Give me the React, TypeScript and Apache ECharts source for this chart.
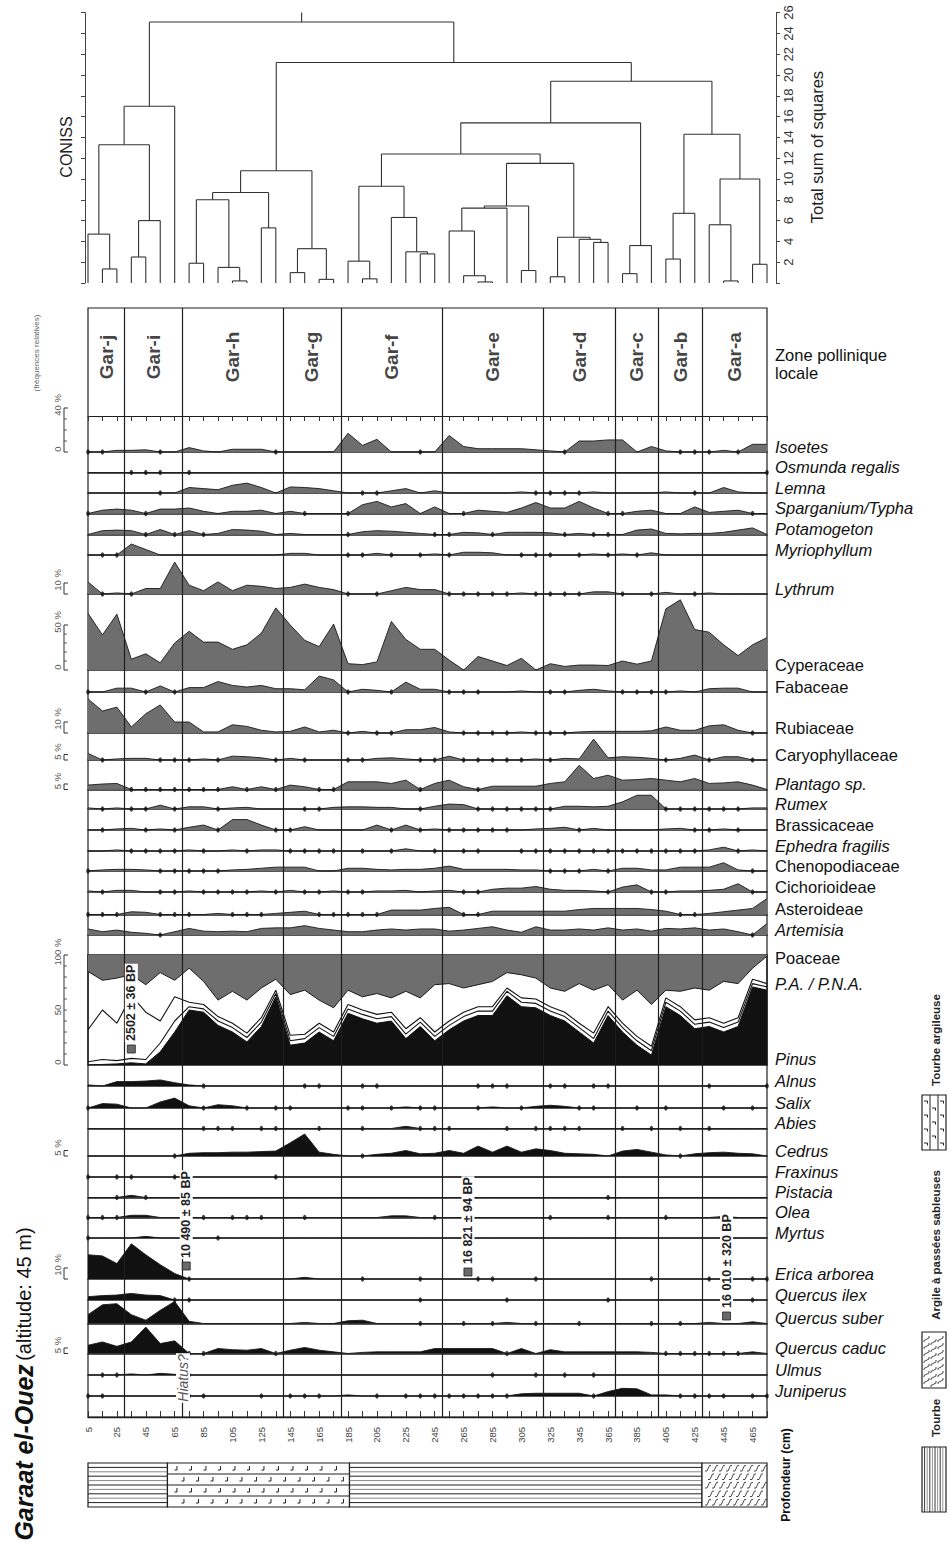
import React, { useEffect, useRef } from 'react';
import * as echarts from 'echarts';

// ---------------- DATA ----------------
const depths = [5, 15, 25, 35, 45, 55, 65, 75, 85, 95, 105, 115, 125, 135, 145, 155, 165, 175, 185, 195, 205, 215, 225, 235, 245, 255, 265, 275, 285, 295, 305, 315, 325, 335, 345, 355, 365, 375, 385, 395, 405, 415, 425, 435, 445, 455, 465, 475];
const depthLabels = [5, 25, 45, 65, 85, 105, 125, 145, 165, 185, 205, 225, 245, 265, 285, 305, 325, 345, 365, 385, 405, 425, 445, 465];

const zoneNames = ['Gar-j', 'Gar-i', 'Gar-h', 'Gar-g', 'Gar-f', 'Gar-e', 'Gar-d', 'Gar-c', 'Gar-b', 'Gar-a'];
const zoneBounds = [5, 30, 70, 140, 180, 250, 320, 370, 400, 430, 475];

// CONISS dendrogram: [left, right, height]; leaves = sample index
const conissTree: any = [
  [[[0, [1, 2, 1.35], 4.7], [[3, 4, 2.5], 5, 6.0], 13.3], 6, 17.0],
  [
    [[[[7, 8, 1.9], [9, [10, 11, 0.2], 1.5], 8.0], [12, 13, 5.3], 8.7], [[14, 15, 1.0], [16, 17, 0.35], 3.3], 10.8],
    [
      [
        [
          [[18, [19, 20, 0.4], 2.1], [21, [22, [23, 24, 2.8], 3.0], 6.3], 9.3],
          [[[[25, [26, [27, 28, 0.1], 0.7], 5.0], 29, 7.2], [30, 31, 1.2], 7.4], [[32, 33, 0.6], [34, [35, 36, 3.9], 4.2], 4.4], 11.5],
          12.4
        ],
        [[37, 38, 0.9], 39, 3.6],
        15.4
      ],
      [[[40, 41, 2.3], 42, 6.7], [[43, [44, 45, 0.2], 5.6], [46, 47, 1.8], 10.0], 14.3],
      19.4
    ],
    21.2
  ],
  25.1
];
const conissRootTop = 26;

const isoetes = [0.2, 0.2, 1.5, 1.5, 2, 0.2, 0, 4, 1, 0, 2.5, 2.5, 2.5, 0.2, 0, 0, 0, 0, 17, 6, 11.5, 0, 0, 0.2, 0, 15, 5, 3, 3, 3, 3, 2, 1, 0.2, 10, 10, 11, 11, 0, 5, 1, 0.2, 0.2, 0.2, 1.5, 0.2, 7, 7];
const osmunda = [0, 0, 0, 0.2, 0.2, 0.2, 0, 0.2, 0, 0, 0, 0, 0, 0, 0, 0, 0, 0, 0, 0, 0, 0, 0, 0, 0, 0, 0, 0, 0, 0, 0, 0, 0, 0, 0, 0, 0, 0, 0, 0, 0, 0, 0, 0, 0, 0, 0, 0.2];
const lemna = [0, 0, 0, 0, 0, 0.2, 0, 5, 4, 3, 7, 9, 5, 0, 5.5, 5, 4, 2, 0, 0.2, 0.2, 2, 4, 0, 2, 0, 0, 0, 0, 0, 1, 0.2, 0.2, 0.2, 0.2, 1, 0, 0, 0, 0, 1, 0, 0.2, 0, 5, 1, 0, 0];
const sparganium = [0.2, 3, 4, 3, 0.2, 4, 4, 5, 2, 0, 2, 2, 3, 0, 2, 0.2, 0, 0, 0.2, 8, 11, 6, 9, 0, 6, 0, 0.2, 3, 2, 1, 5, 10, 5, 5, 11, 5, 0.2, 0.2, 2, 3, 0, 0, 6, 1, 2, 3, 0.2, 0];
const potamogeton = [0, 3.5, 4, 3.5, 0.2, 4.5, 0.2, 3.5, 0.2, 1, 4.5, 4, 3, 0, 1, 0, 0, 0, 0.2, 2.5, 3.5, 3, 2, 1, 0.2, 0.2, 2, 1.5, 0.2, 2, 2, 2, 1.5, 0.2, 1, 0.2, 0.2, 0, 4, 5, 1, 0.6, 1, 1, 2, 4, 6, 0];
const myriophyllum = [0, 0.2, 0.2, 10, 5, 0, 0, 0, 0, 0, 0, 0, 0, 0, 1.5, 1.5, 0, 0, 0.2, 0.2, 1.5, 0.2, 0, 0.2, 1, 0.2, 2.5, 2.5, 2, 0, 0.2, 0.2, 0.2, 0, 0.2, 1, 0.2, 1, 0.2, 2, 0, 0, 0, 0, 0, 0, 0, 0];
const lythrum = [11, 0.2, 1, 0.2, 5, 5, 29, 8, 3, 11, 3, 8, 7, 5, 6, 9, 6, 4, 0.2, 0, 0.2, 3, 6, 4, 4, 0.2, 0.2, 0.2, 0.2, 0.2, 1, 0.2, 0.2, 0.2, 0.2, 2, 2, 0.2, 0, 0.2, 1.5, 0, 0.2, 1, 0, 0, 0, 0];
const cyperaceae = [63, 39, 62, 12, 18, 8, 30, 43, 31, 31, 23, 28, 41, 69, 50, 33, 26, 51, 7, 6, 9, 54, 34, 23, 23, 11, 0, 15, 10, 5, 13, 0, 7, 4, 5.5, 5.5, 5, 10, 6.5, 10, 68, 78, 45, 42, 28, 16, 28, 36];
const fabaceae = [0.2, 0, 3.5, 3.5, 0.2, 5.5, 0.2, 4, 4, 9.5, 6, 4.5, 6, 3, 3, 2, 14.5, 11, 0.2, 2.5, 1.5, 0.2, 9, 2.5, 2.5, 0.2, 0.2, 0.2, 0, 0, 1, 0, 0.2, 0.2, 1.5, 2.5, 1, 0.2, 0.2, 0.2, 0.2, 1, 0, 3, 3.5, 3.5, 0, 0];
const rubiaceae = [31, 20, 23.5, 5.5, 17.5, 25.5, 10, 10, 1, 1, 7.5, 6, 2.5, 1, 1.5, 5.5, 1, 2.5, 0.2, 1.5, 0.2, 0.2, 3, 3, 5, 1, 0.2, 0.2, 0.2, 0.2, 1, 0.2, 0.2, 0.2, 1, 1.5, 1.5, 1.5, 1.5, 2, 5.5, 2.5, 2.5, 6.5, 7.5, 2.5, 0.2, 0];
const caryophyllaceae = [6, 0.2, 1, 1.5, 1.5, 0.2, 0.2, 0.2, 1, 0.2, 3.5, 3, 2, 0.2, 1.5, 0.2, 0, 0, 0.2, 0.2, 1.5, 2, 1, 0.2, 0.2, 3.5, 0.2, 0.2, 0.2, 0.2, 0.2, 1, 0.2, 1.5, 1, 19, 2, 3, 2.5, 1.5, 0.2, 1.5, 4.5, 0.2, 3, 3, 0.2, 0];
const plantago = [4, 5, 5.5, 0.2, 0.2, 0.2, 0.2, 0.2, 0.2, 0.2, 2.5, 0.2, 2.5, 0.2, 4, 2.5, 0.2, 0.2, 7, 7, 7, 5.5, 8.5, 0.2, 5.5, 8.5, 2.5, 0.2, 3, 3, 3, 3, 5.5, 7, 22, 10, 13, 8.5, 9, 10, 8.5, 7, 10, 5.5, 6, 7, 4, 0];
const rumex = [1, 0.2, 1, 0.2, 0.2, 3.5, 0.2, 2, 2, 0.2, 1, 1.5, 0, 0, 0, 0.2, 0.2, 1.5, 2, 2, 1.5, 1.5, 0, 0.2, 2.5, 4.5, 4, 0.2, 0.2, 0.2, 0.2, 0.2, 0.2, 2.5, 2.5, 2, 2.5, 6.5, 12.5, 12.5, 0.2, 0.2, 0.2, 0.2, 0.2, 0.2, 1, 1];
const brassicaceae = [0, 0.2, 1, 1.5, 0.2, 1, 0.2, 2.5, 4.5, 0.2, 9.5, 9.5, 4.5, 0.2, 0.2, 3, 0, 0, 0, 0, 4.5, 0.2, 4.5, 0.2, 1, 0.2, 0.2, 0.2, 0.2, 0.2, 0, 1, 1.5, 2.5, 0.2, 1.5, 0, 0, 0, 0, 1, 1.5, 0.2, 0.2, 1, 0.2, 0, 0];
const ephedra = [0, 0, 1, 0.2, 0.2, 0.2, 0.2, 1, 0.2, 0, 1, 0.2, 1, 1, 0.2, 0.2, 0.2, 0.2, 0, 0.2, 0, 0.2, 2, 0, 0.2, 0, 0.2, 0.2, 0, 0, 0.2, 0.2, 0.2, 0.2, 0.2, 0.2, 0.2, 0.2, 0.2, 0.2, 0.2, 0.2, 0.2, 1, 3.5, 0.2, 1, 0];
const chenopodiaceae = [0.2, 1, 1.5, 1.5, 1, 0.2, 0.2, 0.2, 0.2, 0.2, 1, 1.5, 2.5, 3.5, 3.5, 3.5, 0, 0, 2.5, 2.5, 1.5, 1, 1.5, 1.5, 2.5, 4.5, 1.5, 1.5, 1.5, 1.5, 1, 1, 0.2, 0.2, 0.2, 1.5, 0.2, 2.5, 2.5, 1, 1, 3.5, 3.5, 3.5, 7.5, 1, 0.2, 0];
const cichorioideae = [1, 0.2, 1.5, 1.5, 0, 0.2, 0.2, 1, 0.2, 0.2, 0.2, 0.2, 1, 0.2, 1.5, 0.2, 0.2, 1, 0.2, 0.2, 1, 1, 1.5, 0, 1, 1.5, 0.2, 0.2, 2.5, 3.5, 3.5, 5, 2.5, 1.5, 1.5, 1, 0.2, 4.5, 6.5, 0.2, 0.2, 1, 1, 1.5, 2.5, 7.5, 0.2, 0];
const asteroideae = [0.2, 0.2, 0.2, 2.5, 2, 0.2, 0.2, 0.2, 0, 1, 0.2, 0.2, 0.2, 1, 2, 3, 0.2, 0.2, 0.2, 0.2, 0.2, 4, 4, 4, 5.5, 6.5, 0.2, 0.2, 3, 3, 3, 3, 3, 3, 4.5, 5.5, 5.5, 5.5, 5.5, 4.5, 3, 0.2, 0.2, 1, 2.5, 4, 5.5, 14.5];
const artemisia = [5.5, 3, 4.5, 2.5, 1.5, 0.2, 3, 6, 3.5, 3, 3.5, 3, 6, 6.5, 6.5, 8.5, 6, 4.5, 3, 3, 4.5, 5.5, 4.5, 5.5, 5.5, 3.5, 4.5, 6, 7.5, 4.5, 2.5, 7.5, 4.5, 4.5, 5.5, 4.5, 6.5, 4.5, 5.5, 3.5, 6, 5.5, 6.5, 4.5, 5.5, 3, 0.2, 10.5];

// P.A. / P.N.A. panel (% of the pollen sum)
const poaceae = [15, 23, 21, 18, 27, 16, 23, 12, 24, 41, 33, 41, 30, 22, 36, 32, 41, 48, 32, 38, 35, 39, 33, 39, 27, 26, 30, 27, 24, 16, 18, 21, 30, 33, 26, 32, 27, 41, 32, 45, 32, 33, 30, 32, 24, 26, 12, 1];
const pinus = [0, 0.5, 1, 2, 1, 12, 30, 50, 48, 36, 30, 21, 35, 62, 18, 20, 30, 22, 47, 42, 38, 40, 24, 35, 22, 32, 40, 45, 45, 63, 53, 52, 45, 40, 30, 20, 45, 30, 18, 9, 53, 45, 33, 35, 30, 35, 71, 68];
const apInner = [3, 5, 4, 6, 5, 20, 40, 53, 51, 40, 34, 25, 39, 65, 22, 24, 34, 26, 51, 46, 42, 44, 28, 39, 26, 36, 44, 49, 49, 67, 57, 56, 49, 44, 34, 24, 49, 34, 22, 13, 57, 49, 37, 39, 34, 39, 74, 71];
const apTotal = [32, 50, 38, 63, 48, 40, 62, 57, 55, 44, 38, 29, 43, 68, 27, 28, 38, 30, 55, 50, 46, 48, 33, 43, 30, 40, 48, 53, 53, 70, 61, 60, 53, 48, 38, 29, 53, 38, 26, 17, 61, 53, 41, 43, 38, 43, 78, 74];

const alnus = [1, 0, 4, 4, 4.5, 5.5, 3, 1, 0.2, 0, 0, 0, 0, 0, 0, 0.2, 0.2, 0, 0, 0.2, 0.2, 0, 0, 0, 0, 0, 0, 0.2, 0.2, 0.2, 0, 0, 0.2, 0.2, 0, 0.2, 0.2, 0, 0, 0, 0, 0, 0, 0.2, 0, 0, 0, 0.2];
const salix = [0.2, 4, 3.5, 0, 0, 5.5, 9, 2, 0.2, 3, 2, 0.2, 0, 0.2, 0.2, 0, 0, 0, 0.2, 0.2, 0, 0.2, 1, 0.2, 0.2, 0, 0, 0.2, 1, 0, 0.2, 1.5, 2.5, 1.5, 0.2, 0.2, 0, 0, 0.2, 0, 0.2, 0, 0, 0, 0.2, 0, 0.2, 0];
const abies = [0, 0, 0, 0, 0, 0, 0, 0, 0.2, 0.2, 0.2, 0, 0.2, 0.2, 0, 0, 0.2, 0, 0, 0.2, 0, 0, 2, 0.2, 0.2, 0.2, 0, 0, 0, 0.2, 0, 0.2, 0.2, 0.2, 0.2, 0, 0, 0.2, 0, 0.2, 0, 0.2, 0, 0.2, 0, 0, 0, 0];
const cedrus = [0, 0, 0, 0, 0, 0, 0.2, 2.5, 3, 3, 3.5, 3.5, 4, 4.5, 12, 20, 3.5, 1.5, 0, 0.2, 1.5, 2.5, 5, 2, 2.5, 5, 2.5, 9, 3.5, 9, 3.5, 6.5, 5, 2.5, 2, 1.5, 0, 4.5, 6, 3.5, 1, 0.2, 2, 3, 3.5, 2.5, 2, 0];
const fraxinus = [0.2, 0, 0.2, 0.2, 0, 0, 0.2, 0, 0, 0, 0, 0, 0, 0.2, 0, 0, 0, 0, 0, 0, 0, 0, 0, 0, 0, 0, 0, 0, 0, 0, 0, 0, 0, 0, 0, 0, 0, 0, 0, 0, 0, 0, 0, 0, 0, 0, 0, 0];
const pistacia = [0, 0, 0.2, 2, 0.2, 0, 0, 0, 0, 0, 0, 0, 0, 0, 0, 0, 0, 0, 0, 0, 0, 0, 0, 0, 0, 0, 0, 0, 0, 0, 0, 0, 0, 0, 0, 0, 0.2, 0, 0, 0, 0, 0, 0, 0, 0, 0, 0, 0];
const olea = [0.2, 0.2, 0.2, 2, 2, 0, 0, 0, 0.2, 0, 0.2, 0.2, 0.2, 0, 0, 0.2, 0, 0, 0, 0, 0, 1.5, 1.5, 0, 0.2, 0, 0, 0, 0, 0, 0, 0, 0.2, 0, 0, 0, 0.2, 0, 0, 0, 0.2, 0, 0, 0, 1, 0, 0, 0];
const myrtus = [0.2, 0, 0, 0, 1.5, 0, 0, 0, 0, 0.2, 0, 0, 0, 0, 0, 0, 0, 0, 0, 0, 0, 0, 0, 0, 0, 0, 0, 0, 0, 0, 0, 0, 0, 0, 0, 0, 0, 0, 0, 0, 0, 0, 0, 0, 0, 0, 0, 0];
const erica = [22, 21, 14, 32, 22, 13, 5, 0.2, 0, 0, 0, 0, 0, 0, 0, 1.5, 0, 0, 0, 0.2, 0, 0, 0, 0.2, 0, 0, 0, 0.2, 0.2, 0, 0, 0.2, 0, 0, 0, 0, 0, 0, 0, 0.2, 0, 0, 0, 0.2, 0, 0, 0.2, 0.2];
const quercusIlex = [3, 4, 4.5, 6, 4.5, 4, 0.2, 0.2, 0, 0, 0, 0, 0, 0, 0, 0, 0, 0, 0, 0, 0, 0, 0, 0.2, 0, 0, 0, 0, 0, 0.2, 0, 0, 0, 0, 0, 0, 0.2, 0, 0, 0, 0, 0, 0, 0, 0, 0, 0.2, 0];
const quercusSuber = [8, 17, 18, 8, 3, 12, 20, 2, 0, 0, 0, 0, 0, 0, 0, 1, 0, 0, 2.5, 3, 0, 0, 0, 0.2, 0, 0, 0.2, 0, 0.2, 1, 0, 0.2, 0, 0, 0.2, 0, 0, 0, 0, 0.2, 0, 0.2, 0, 1, 0, 0, 1.5, 0];
const quercusCaduc = [7.5, 10.5, 6.5, 10.5, 24, 9, 11.5, 0.2, 0.2, 4.5, 3.5, 3, 4.5, 0.2, 3, 5.5, 3, 1.5, 0, 1, 1.5, 1.5, 1.5, 1.5, 4.5, 4.5, 4.5, 4.5, 4.5, 0.2, 4.5, 0, 3.5, 1.5, 1.5, 1.5, 1.5, 1.5, 1.5, 1, 0.2, 0.2, 0.2, 0.2, 0.2, 0.2, 1.5, 0];
const ulmus = [0, 0.2, 0.2, 1, 0, 1.5, 0.6, 0.2, 0, 0, 0, 0, 0, 0, 0, 0, 0, 0, 0, 0, 0, 0, 0, 0, 0, 0, 0, 0, 0.2, 0, 0, 0.2, 0, 0.2, 0, 0.2, 0, 0, 0, 0, 0, 0, 0, 0, 0, 0, 0, 0];
const juniperus = [0.2, 0.2, 0, 0, 0, 0, 0, 0.2, 0.2, 0, 0, 0, 0.2, 0, 0.2, 0.2, 0.2, 0, 1, 0, 0.2, 0, 0.2, 0.2, 0.2, 0.2, 0.2, 0.2, 0.2, 0.2, 2, 2.5, 2.5, 2.5, 2.5, 0.2, 4, 7, 6.5, 1, 1, 0.2, 0.2, 0.2, 0.2, 0, 0.2, 0.2];

// Lithology
const lithoFrom = [5, 60, 186, 430];
const lithoTo = [60, 186, 430, 475];
const lithoKind = ['peat', 'clayPeat', 'peat', 'clay'];
const lithoLegend = ['Tourbe', 'Argile à passées sableuses', 'Tourbe argileuse'];

// Radiocarbon dates
const dateLabels = ['2502 ± 36 BP', '10 490 ± 85 BP', '16 821 ± 94 BP', '16 010 ± 320 BP'];
const dateDepths = [35, 73, 268, 447];

// ---------------- LAYOUT ----------------
const FONT = '"Liberation Sans", Arial, Helvetica, sans-serif';
const PL = 88, PR = 767, DMIN = 5, DMAX = 475;
const K = (PR - PL) / (DMAX - DMIN);
const toX = (d: number) => PL + (d - DMIN) * K;
const HERB = '#6e6e6e', TREE = '#111111', INK = '#1e1e1e';
const PLOT_TOP = 308, ZONE_BOTTOM = 406, PLOT_BOTTOM = 1417;
const PA_TOP = 955, PA_BASE = 1065, PA_SCALE = 1.1;
const DENDRO_ZERO = 283, DENDRO_UNIT = 10.4, DENDRO_LEFT = 85, DENDRO_RIGHT = 776;
const dateSquareY = [1049, 1266, 1272, 1316];

type Row = { label: string; values: number[]; base: number; italic?: boolean; tree?: boolean; scale?: number };
const rows: Row[] = [
  { label: 'Isoetes', values: isoetes, base: 452, italic: true },
  { label: 'Osmunda regalis', values: osmunda, base: 472.5, italic: true },
  { label: 'Lemna', values: lemna, base: 493, italic: true },
  { label: 'Sparganium/Typha', values: sparganium, base: 513.5, italic: true },
  { label: 'Potamogeton', values: potamogeton, base: 534.5, italic: true },
  { label: 'Myriophyllum', values: myriophyllum, base: 555, italic: true },
  { label: 'Lythrum', values: lythrum, base: 594, italic: true },
  { label: 'Cyperaceae', values: cyperaceae, base: 670, scale: 0.9 },
  { label: 'Fabaceae', values: fabaceae, base: 692 },
  { label: 'Rubiaceae', values: rubiaceae, base: 733 },
  { label: 'Caryophyllaceae', values: caryophyllaceae, base: 760 },
  { label: 'Plantago sp.', values: plantago, base: 789.5, italic: true },
  { label: 'Rumex', values: rumex, base: 809, italic: true },
  { label: 'Brassicaceae', values: brassicaceae, base: 830 },
  { label: 'Ephedra fragilis', values: ephedra, base: 851, italic: true },
  { label: 'Chenopodiaceae', values: chenopodiaceae, base: 871 },
  { label: 'Cichorioideae', values: cichorioideae, base: 892 },
  { label: 'Asteroideae', values: asteroideae, base: 914.5 },
  { label: 'Artemisia', values: artemisia, base: 935, italic: true },
  { label: 'Alnus', values: alnus, base: 1086, italic: true, tree: true },
  { label: 'Salix', values: salix, base: 1108, italic: true, tree: true },
  { label: 'Abies', values: abies, base: 1128.5, italic: true, tree: true },
  { label: 'Cedrus', values: cedrus, base: 1156, italic: true, tree: true },
  { label: 'Fraxinus', values: fraxinus, base: 1177, italic: true, tree: true },
  { label: 'Pistacia', values: pistacia, base: 1197.5, italic: true, tree: true },
  { label: 'Olea', values: olea, base: 1217.5, italic: true, tree: true },
  { label: 'Myrtus', values: myrtus, base: 1238, italic: true, tree: true },
  { label: 'Erica arborea', values: erica, base: 1279, italic: true, tree: true },
  { label: 'Quercus ilex', values: quercusIlex, base: 1300, italic: true, tree: true },
  { label: 'Quercus suber', values: quercusSuber, base: 1323.5, italic: true, tree: true },
  { label: 'Quercus caduc', values: quercusCaduc, base: 1353.5, italic: true, tree: true },
  { label: 'Ulmus', values: ulmus, base: 1375, italic: true, tree: true },
  { label: 'Juniperus', values: juniperus, base: 1396, italic: true, tree: true },
];

// scale bars: [base, percent, px per %, top label, minor step, zero label]
const scaleBars: any[] = [
  [452, 40, 1.1, '40 %', 10, '0'],
  [594, 10, 1.1, '10 %', 0, ''],
  [670, 50, 0.9, '50 %', 10, '0'],
  [733, 10, 1.1, '10 %', 0, ''],
  [760, 5, 1.1, '5 %', 0, ''],
  [789.5, 5, 1.1, '5 %', 0, ''],
  [1065, 100, 1.1, '100 %', 10, '0'],
  [1156, 5, 1.1, '5 %', 0, ''],
  [1279, 10, 1.1, '10 %', 0, ''],
  [1353.5, 5, 1.1, '5 %', 0, ''],
];

function conissSegments(node: any, out: number[][]): number[] {
  if (typeof node === 'number') return [depths[node], 0];
  const a = conissSegments(node[0], out);
  const b = conissSegments(node[1], out);
  const h = node[2];
  out.push([a[0], a[1], a[0], h]);
  out.push([b[0], b[1], b[0], h]);
  out.push([a[0], h, b[0], h]);
  return [(a[0] + b[0]) / 2, h];
}

function text(x: number, y: number, t: string, o: any = {}) {
  const align = o.align || 'center';
  const valign = o.valign || 'middle';
  return {
    type: 'text', x, y, rotation: o.rot || 0, z: o.z || 100, silent: true,
    style: {
      text: t, fontSize: o.size || 12, fontFamily: FONT, fontWeight: o.weight || 'normal',
      fontStyle: o.italic ? 'italic' : 'normal', fill: o.fill || '#111',
      align, verticalAlign: valign, textAlign: align, textVerticalAlign: valign,
      backgroundColor: o.bg, padding: o.pad, rich: o.rich,
    },
  };
}
function line(x1: number, y1: number, x2: number, y2: number, stroke = INK, w = 1, z = 97) {
  return { type: 'line', silent: true, z, shape: { x1, y1, x2, y2 }, style: { stroke, lineWidth: w } };
}

function buildOption() {
  const grids: any[] = [], xAxes: any[] = [], yAxes: any[] = [], series: any[] = [], gfx: any[] = [];
  const hiddenX = { type: 'value', min: DMIN, max: DMAX, show: false };
  const addGrid = (g: any, x: any, y: any) => {
    grids.push({ show: false, ...g });
    const gi = grids.length - 1;
    xAxes.push({ ...x, gridIndex: gi });
    yAxes.push({ ...y, gridIndex: gi });
    return { gi, xi: xAxes.length - 1, yi: yAxes.length - 1 };
  };

  // ---- dendrogram ----
  const dTop = DENDRO_ZERO - conissRootTop * DENDRO_UNIT;
  const dg = addGrid(
    { left: DENDRO_LEFT, top: dTop, width: DENDRO_RIGHT - DENDRO_LEFT, height: conissRootTop * DENDRO_UNIT },
    { type: 'value', min: DMIN - (PL - DENDRO_LEFT) / K, max: DMAX + (DENDRO_RIGHT - PR) / K, show: false },
    { type: 'value', min: 0, max: 26, interval: 2, position: 'left', axisLine: { show: true, lineStyle: { color: '#444', width: 1 } }, axisTick: { show: true, length: 4, lineStyle: { color: '#444' } }, axisLabel: { show: false }, splitLine: { show: false } }
  );
  yAxes.push({
    gridIndex: dg.gi, type: 'value', min: 0, max: 26, interval: 2, position: 'right',
    axisLine: { show: true, lineStyle: { color: '#444', width: 1 } }, axisTick: { show: true, length: 4, lineStyle: { color: '#444' } },
    axisLabel: { show: true, rotate: 90, fontSize: 13, color: '#333', fontFamily: FONT, margin: 6, formatter: (v: number) => (v === 0 ? '' : String(v)) },
    splitLine: { show: false },
  });
  const segs: number[][] = [];
  const root = conissSegments(conissTree, segs);
  segs.push([root[0], root[1], root[0], conissRootTop]);
  series.push({
    type: 'custom', xAxisIndex: dg.xi, yAxisIndex: dg.yi, data: segs, encode: { x: [0, 2], y: [1, 3] }, silent: true, clip: false,
    renderItem: (_p: any, api: any) => {
      const a = api.coord([api.value(0), api.value(1)]);
      const b = api.coord([api.value(2), api.value(3)]);
      return { type: 'line', shape: { x1: a[0], y1: a[1], x2: b[0], y2: b[1] }, style: { stroke: '#333', lineWidth: 1.1 } };
    },
  });
  gfx.push(text(66, 147, 'CONISS', { rot: Math.PI / 2, size: 16, fill: '#222' }));
  gfx.push(text(817, 147, 'Total sum of squares', { rot: Math.PI / 2, size: 16.5, fill: '#222' }));

  // ---- frame + zone boundaries ----
  const fr = addGrid({ left: PL, width: PR - PL, top: PLOT_TOP, height: PLOT_BOTTOM - PLOT_TOP, show: true, borderColor: INK, borderWidth: 1.2, backgroundColor: 'transparent' }, hiddenX, { type: 'value', min: 0, max: 1, show: false });
  series.push({
    type: 'line', xAxisIndex: fr.xi, yAxisIndex: fr.yi, data: [], silent: true,
    markLine: { silent: true, symbol: ['none', 'none'], label: { show: false }, animation: false, lineStyle: { color: INK, width: 1.2, type: 'solid' }, data: zoneBounds.slice(1, -1).map((b) => ({ xAxis: b })) },
  });

  // ---- zone labels ----
  const zg = addGrid({ left: PL, width: PR - PL, top: PLOT_TOP, height: ZONE_BOTTOM - PLOT_TOP }, hiddenX, { type: 'value', min: 0, max: 1, show: false });
  series.push({
    type: 'scatter', xAxisIndex: zg.xi, yAxisIndex: zg.yi, symbolSize: 0, silent: true,
    data: zoneNames.map((n, i) => ({ name: n, value: [(zoneBounds[i] + zoneBounds[i + 1]) / 2, 0.5] })),
    label: { show: true, position: 'inside', formatter: '{b}', rotate: 90, fontSize: 19, fontWeight: 'bold', color: '#111', fontFamily: FONT },
  });
  gfx.push(text(775, 355, 'Zone pollinique', { align: 'left', size: 16.5 }));
  gfx.push(text(775, 373, 'locale', { align: 'left', size: 16.5 }));
  gfx.push(text(36, 353, '(fréquences relatives)', { rot: Math.PI / 2, size: 8, fill: '#666' }));

  // top tick row under the zone box
  addGrid({ left: PL, width: PR - PL, top: ZONE_BOTTOM, height: 10 },
    { type: 'value', min: DMIN, max: DMAX, position: 'top', axisLine: { show: true, lineStyle: { color: INK, width: 1.2 } }, axisTick: { show: true, inside: true, length: 5, customValues: depths, lineStyle: { color: '#333' } }, axisLabel: { show: false }, splitLine: { show: false } },
    { type: 'value', min: 0, max: 1, show: false });

  // ---- taxon rows ----
  const RH = 80;
  rows.forEach((r) => {
    const sc = r.scale || 1.1;
    const g = addGrid({ left: PL, width: PR - PL, top: r.base - RH, height: RH },
      { type: 'value', min: DMIN, max: DMAX, axisLine: { show: true, onZero: false, lineStyle: { color: INK, width: 1.6 } }, axisTick: { show: false }, axisLabel: { show: false }, splitLine: { show: false } },
      { type: 'value', min: 0, max: RH / sc, show: false });
    series.push({
      type: 'line', xAxisIndex: g.xi, yAxisIndex: g.yi, symbol: 'none', silent: true, clip: false, z: 3,
      data: depths.map((d, i) => [d, r.values[i] >= 0.5 ? r.values[i] : 0]),
      lineStyle: { color: '#1a1a1a', width: 0.9 }, areaStyle: { color: r.tree ? TREE : HERB, opacity: 1 },
    });
    series.push({
      type: 'scatter', xAxisIndex: g.xi, yAxisIndex: g.yi, silent: true, z: 4, symbol: 'circle', symbolSize: [3.6, 5.4],
      itemStyle: { color: '#111' },
      data: depths.filter((_d, i) => r.values[i] > 0 && r.values[i] < 0.5).map((d) => [d, 0]),
    });
    gfx.push(text(775, r.base - 5.5, r.label, { align: 'left', size: 16.5, italic: r.italic }));
  });

  // ---- P.A. / P.N.A. panel ----
  const pa = addGrid({ left: PL, width: PR - PL, top: PA_TOP, height: PA_BASE - PA_TOP, show: true, borderColor: INK, borderWidth: 1.4, backgroundColor: 'transparent' },
    { type: 'value', min: DMIN, max: DMAX, show: false },
    { type: 'value', min: 0, max: (PA_BASE - PA_TOP) / PA_SCALE, show: false });
  series.push({
    type: 'line', xAxisIndex: pa.xi, yAxisIndex: pa.yi, symbol: 'none', silent: true, z: 3,
    data: depths.map((d, i) => [d, 100 - poaceae[i]]),
    lineStyle: { color: '#1a1a1a', width: 1 }, areaStyle: { color: HERB, opacity: 1, origin: 'end' },
  });
  series.push({
    type: 'line', xAxisIndex: pa.xi, yAxisIndex: pa.yi, symbol: 'none', silent: true, z: 3,
    data: depths.map((d, i) => [d, pinus[i]]),
    lineStyle: { color: '#111', width: 1 }, areaStyle: { color: TREE, opacity: 1 },
  });
  [apInner, apTotal].forEach((arr) => series.push({
    type: 'line', xAxisIndex: pa.xi, yAxisIndex: pa.yi, symbol: 'none', silent: true, z: 4,
    data: depths.map((d, i) => [d, arr[i]]), lineStyle: { color: '#111', width: 1.1 },
  }));
  gfx.push(text(775, 958, 'Poaceae', { align: 'left', size: 16.5 }));
  gfx.push(text(775, 984, 'P.A. / P.N.A.', { align: 'left', size: 16.5, italic: true }));
  gfx.push(text(775, 1059, 'Pinus', { align: 'left', size: 16.5, italic: true }));

  // ---- bottom depth axis ----
  addGrid({ left: PL, width: PR - PL, top: PLOT_BOTTOM - 60, height: 60 },
    { type: 'value', min: DMIN, max: DMAX, position: 'bottom', axisLine: { show: true, lineStyle: { color: INK, width: 1.3 } }, axisTick: { show: true, inside: true, length: 6, customValues: depths, lineStyle: { color: '#333' } }, axisLabel: { show: true, customValues: depthLabels, rotate: 90, fontSize: 9.5, color: '#444', fontFamily: FONT, margin: 10 }, splitLine: { show: false } },
    { type: 'value', min: 0, max: 1, show: false });
  gfx.push(text(786, 1475, 'Profondeur (cm)', { rot: Math.PI / 2, size: 12, weight: 'bold' }));

  // ---- lithology ----
  const lg = addGrid({ left: PL, width: PR - PL, top: 1463, height: 44 }, hiddenX, { type: 'value', min: 0, max: 1, show: false });
  const kindIdx: any = { peat: 0, clayPeat: 1, clay: 2 };
  series.push({
    type: 'custom', xAxisIndex: lg.xi, yAxisIndex: lg.yi, silent: true, clip: false,
    data: lithoFrom.map((f, i) => [f, lithoTo[i], kindIdx[lithoKind[i]]]), encode: { x: [0, 1] },
    renderItem: (_p: any, api: any) => {
      const a = api.coord([api.value(0), 1]);
      const b = api.coord([api.value(1), 0]);
      const x0 = a[0], y0 = a[1], x1 = b[0], y1 = b[1];
      const t = api.value(2);
      const ch: any[] = [{ type: 'rect', shape: { x: x0, y: y0, width: x1 - x0, height: y1 - y0 }, style: { fill: '#fff', stroke: INK, lineWidth: 1.2 } }];
      if (t === 0) {
        let n = 0;
        for (let y = y0 + 4.4; y < y1 - 1; y += 4.4, n++) ch.push({ type: 'line', shape: { x1: x0, y1: y, x2: x1, y2: y }, style: { stroke: n % 2 ? '#888' : '#222', lineWidth: 1 } });
      } else if (t === 1) {
        let row = 0;
        for (let y = y0 + 11; y < y1 - 1; y += 11) ch.push({ type: 'line', shape: { x1: x0, y1: y, x2: x1, y2: y }, style: { stroke: '#222', lineWidth: 1.1 } });
        for (let y = y0 + 5.5; y < y1; y += 11, row++) {
          for (let x = x0 + 8 + (row % 2) * 7; x < x1 - 3; x += 14.5) {
            ch.push({ type: 'polyline', shape: { points: [[x + 1.5, y - 2.5], [x + 1.5, y + 1.5], [x - 1, y + 1.5]] }, style: { stroke: '#222', fill: null, lineWidth: 1 } });
          }
        }
      } else {
        let row = 0;
        for (let y = y0 + 5; y < y1 - 2; y += 8.5, row++) {
          for (let x = x0 + 3 + (row % 2) * 3; x < x1 - 5; x += 7) {
            ch.push({ type: 'polyline', shape: { points: [[x, y + 3], [x + 2, y + 3], [x + 4.5, y - 2.5], [x + 6, y - 2.5]] }, style: { stroke: '#333', fill: null, lineWidth: 0.9 } });
          }
        }
      }
      return { type: 'group', children: ch };
    },
  });

  // ---- scale bars ----
  scaleBars.forEach(([base, pct, sc, lab, minor, zero]) => {
    const top = base - pct * sc;
    gfx.push(line(64, top, 64, base, '#333', 1));
    gfx.push(line(64, top, 68, top, '#333', 1));
    gfx.push(line(64, base, 68, base, '#333', 1));
    if (minor) for (let p = minor; p < pct; p += minor) gfx.push(line(64, base - p * sc, 67, base - p * sc, '#333', 0.8));
    gfx.push(text(57, top - 3, lab, { rot: Math.PI / 2, size: 9.5, fill: '#555' }));
    if (zero) gfx.push(text(57, base - 3, zero, { rot: Math.PI / 2, size: 9.5, fill: '#555' }));
    if (pct === 100) gfx.push(text(57, base - 50 * sc, '50', { rot: Math.PI / 2, size: 9.5, fill: '#555' }));
  });

  // ---- dates ----
  dateLabels.forEach((lab, i) => {
    const x = toX(dateDepths[i]);
    const y = dateSquareY[i];
    gfx.push({ type: 'rect', z: 110, silent: true, shape: { x: x - 4, y: y - 4, width: 8, height: 8 }, style: { fill: '#6a6a6a', stroke: '#222', lineWidth: 0.8 } });
    gfx.push(text(x, y - 7, lab, { rot: Math.PI / 2, align: 'left', size: 12.5, weight: 'bold', fill: '#222', bg: '#fff', pad: [0, 1], z: 110 }));
  });
  gfx.push(text(183, 1378, 'Hiatus?', { rot: Math.PI / 2, size: 14, italic: true, fill: '#555', z: 110, bg: '#fff', pad: [0, 1] }));

  // ---- title ----
  gfx.push({
    type: 'text', x: 24, y: 1384, rotation: Math.PI / 2, silent: true, z: 100,
    style: {
      text: '{a|Garaat el-Ouez} {b|(altitude: 45 m)}', align: 'center', verticalAlign: 'middle', textAlign: 'center', textVerticalAlign: 'middle',
      rich: { a: { fontSize: 25, fontWeight: 'bold', fontStyle: 'italic', fontFamily: FONT, fill: '#111' }, b: { fontSize: 20, fontFamily: FONT, fill: '#111' } },
    },
  });

  // ---- lithology legend ----
  const LX = 922, LW = 24;
  const boxes = [[1447, 1512, 0], [1332, 1388, 2], [1095, 1150, 1]];
  const legendTextY = [1418, 1245, 1040];
  boxes.forEach(([y0, y1, kind], i) => {
    gfx.push({ type: 'rect', silent: true, z: 95, shape: { x: LX, y: y0, width: LW, height: y1 - y0 }, style: { fill: '#fff', stroke: INK, lineWidth: 1.2 } });
    if (kind === 0) {
      let n = 0;
      for (let x = LX + 2.6; x < LX + LW - 1; x += 2.6, n++) gfx.push(line(x, y0, x, y1, n % 2 ? '#888' : '#222', 0.9));
    } else if (kind === 1) {
      for (let x = LX + 8; x < LX + LW - 1; x += 8) gfx.push(line(x, y0, x, y1, '#222', 1));
      for (let x = LX + 4, c = 0; x < LX + LW; x += 8, c++) {
        for (let y = y0 + 6 + (c % 2) * 7; y < y1 - 3; y += 14) gfx.push({ type: 'polyline', silent: true, z: 97, shape: { points: [[x - 2, y], [x + 1.5, y], [x + 1.5, y + 2.5]] }, style: { stroke: '#222', fill: null, lineWidth: 1 } });
      }
    } else {
      for (let x = LX + 4, c = 0; x < LX + LW - 2; x += 7, c++) {
        for (let y = y0 + 4 + (c % 2) * 3; y < y1 - 5; y += 7) gfx.push({ type: 'polyline', silent: true, z: 97, shape: { points: [[x + 3, y], [x + 3, y + 2], [x - 2, y + 4.5], [x - 2, y + 6]] }, style: { stroke: '#333', fill: null, lineWidth: 0.9 } });
      }
    }
    gfx.push(text(936, legendTextY[i], lithoLegend[i], { rot: Math.PI / 2, size: 11.5, weight: 'bold', fill: '#222' }));
  });

  return {
    animation: false,
    backgroundColor: '#fff',
    textStyle: { fontFamily: FONT },
    grid: grids, xAxis: xAxes, yAxis: yAxes, series,
    graphic: { elements: gfx },
  };
}

export default function App() {
  const ref = useRef<HTMLDivElement>(null);
  useEffect(() => {
    document.body.style.margin = '0';
    const chart = echarts.init(ref.current as HTMLDivElement, null, { renderer: 'svg', width: 950, height: 1542 });
    chart.setOption(buildOption() as any);
    return () => chart.dispose();
  }, []);
  return <div ref={ref} style={{ position: 'absolute', left: 0, top: 0, width: 950, height: 1542, background: '#fff' }} />;
}
